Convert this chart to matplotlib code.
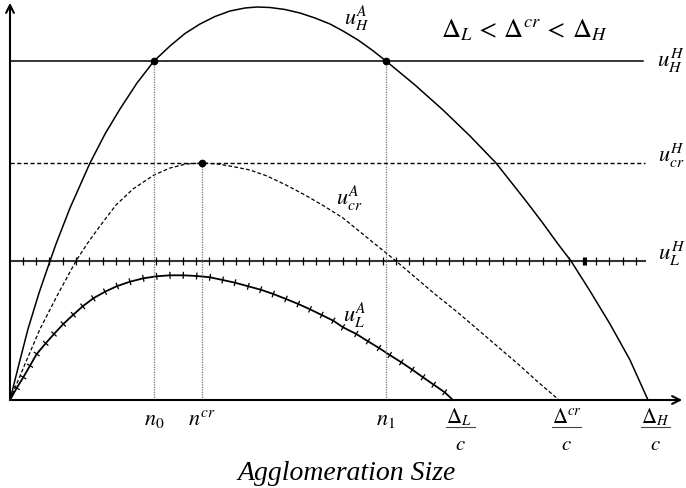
"""Schematic: agglomeration utility curves u^A against the flat u^H levels."""

import matplotlib

matplotlib.use("Agg")
import matplotlib.pyplot as plt
import numpy as np
from matplotlib.collections import LineCollection

plt.rcParams["mathtext.fontset"] = "stix"
plt.rcParams["font.family"] = ["Liberation Serif", "DejaVu Serif"]

# flat utility levels (u^H)
U_H_H = 339
U_CR_H = 237
U_L_H = 139

# special agglomeration sizes
N_0 = 144
N_CR = 192
N_1 = 376
D_L_C = 443
D_CR_C = 549
D_H_C = 638

# u_H^A curve
UHA_N = [0, 9, 18, 29, 40, 46, 60, 80, 95, 110, 127, 144, 160, 175, 190, 205,
         220, 235, 247, 260, 275, 290, 305, 320, 333, 348, 362, 376, 405, 433,
         460, 486, 501, 516, 532, 548, 561, 580, 600, 620, 638]
UHA_U = [0, 36, 71, 107, 139, 156, 192, 237, 266, 291, 317, 339, 354, 366.5, 376,
         383.5, 389, 392, 393, 392.5, 390.5, 387, 382, 376, 369, 360, 350, 339, 315,
         290, 264, 237, 218, 199, 178, 156, 139, 109, 76, 40, 0]

# u_cr^A curve
UCRA_N = [0, 15, 30, 48, 66, 77, 90, 106, 123, 144, 160, 176, 192, 208, 225, 240,
          257, 276, 295, 314, 333, 349, 365, 386, 406, 426, 446, 466, 487, 508,
          528, 549]
UCRA_U = [0, 36, 71, 106, 139, 156, 174, 195, 211, 225, 232, 236, 237, 236, 233,
          230, 224, 215, 205, 194, 182, 169, 156, 139, 122, 105, 89, 72, 54, 36,
          18, 0]

# u_L^A curve (points at its tick marks)
ULA_N = [0, 6.7, 13.3, 20, 26.7, 35.7, 44, 53.3, 63.3, 72.7, 83.3, 95, 107.3, 120,
         133.3, 146.7, 160, 173.3, 186.7, 200, 212.7, 225, 238.3, 250.7, 263.3,
         276, 288.3, 300, 311.7, 323.3, 333, 346.3, 358, 369, 379.7, 391.3,
         402.3, 413, 423.7, 434.7, 443]
ULA_U = [0, 12, 22.7, 34.3, 46, 56.7, 66, 76, 85.3, 93.7, 101.7, 108.3, 114,
         118.3, 121.7, 123.7, 124.7, 124.7, 124, 122.7, 120, 117.3, 113.7, 110.3,
         106, 101, 96, 90.7, 85, 79.3, 72.7, 66, 58.7, 52, 45, 37.7, 30.3, 22.7,
         15.3, 7.7, 0]

FRACTION_NUMERATORS = [r"$\Delta_L$", r"$\Delta^{cr}$", r"$\Delta_H$"]


def main() -> None:
    fig = plt.figure(figsize=(6.86, 4.89), dpi=100)
    ax = fig.add_axes([0, 0, 1, 1])
    # one data unit = one pixel
    ax.set_xlim(-10, 676)
    ax.set_ylim(-88, 401)
    ax.axis("off")

    arrow = dict(arrowstyle="->", lw=1.5, color="black", mutation_scale=14)
    ax.annotate("", xy=(0, 400), xytext=(0, -1), arrowprops=arrow)
    ax.annotate("", xy=(675, 0), xytext=(-1, 0), arrowprops=arrow)

    # flat levels
    ax.plot([0, 633], [U_H_H, U_H_H], color="black", lw=1.1)
    ax.plot([0, 635], [U_CR_H, U_CR_H], color="black", lw=1.0,
            linestyle=(0, (3, 1.8)))
    ax.plot([0, 635], [U_L_H, U_L_H], color="#333333", lw=1.5)
    tick_x = np.arange(12.7, 632, 13.33)
    ax.plot(tick_x, np.full_like(tick_x, U_L_H), linestyle="none", marker="|",
            ms=5.5, mew=0.9, color="black")
    ax.plot([575], [U_L_H], linestyle="none", marker="|", ms=5.5, mew=2.2,
            color="black")

    # curves
    ax.plot(UHA_N, UHA_U, color="black", lw=1.1)
    ax.plot(UCRA_N, UCRA_U, color="black", lw=0.9, linestyle=(0, (3, 1.8)))
    ax.plot(ULA_N, ULA_U, color="black", lw=1.3)
    pts = np.column_stack([ULA_N, ULA_U])
    d = np.gradient(pts, axis=0)
    d /= np.hypot(d[:, 0], d[:, 1])[:, None]
    perp = np.column_stack([-d[:, 1], d[:, 0]]) * 3.5
    segs = np.stack([pts - perp, pts + perp], axis=1)[1:-1]
    ax.add_collection(LineCollection(segs, colors="black", linewidths=0.9))

    # guides
    dotted = dict(color="#777777", lw=0.9, linestyle=(0, (1, 1)))
    ax.plot([N_0, N_0], [0, U_H_H], **dotted)
    ax.plot([N_1, N_1], [0, U_H_H], **dotted)
    ax.plot([N_CR, N_CR], [0, U_CR_H], **dotted)
    ax.plot([N_0, N_1, N_CR], [U_H_H, U_H_H, U_CR_H], linestyle="none",
            marker="o", ms=4.5, color="black")

    # curve labels
    ax.text(334, 376, r"$u_H^A$", fontsize=16, ha="left", va="baseline")
    ax.text(326, 196, r"$u_{cr}^A$", fontsize=16, ha="left", va="baseline")
    ax.text(333, 79, r"$u_L^A$", fontsize=16, ha="left", va="baseline")
    ax.text(647, 334, r"$u_H^H$", fontsize=16.5, ha="left", va="baseline")
    ax.text(648, 239, r"$u_{cr}^H$", fontsize=16, ha="left", va="baseline")
    ax.text(648, 141, r"$u_L^H$", fontsize=16.5, ha="left", va="baseline")
    ax.text(431, 364, r"$\Delta_L\,<\,\Delta^{cr}\,<\,\Delta_H$", fontsize=19,
            ha="left", va="baseline")

    # x-axis labels
    for x, lab in [(N_0, r"$n_0$"), (N_CR, r"$n^{cr}$"), (N_1, r"$n_1$")]:
        ax.text(x, -24, lab, fontsize=16, ha="center", va="baseline")
    for x, num in zip([D_L_C, D_CR_C, D_H_C], FRACTION_NUMERATORS):
        left, right = x - 7, x + 22
        ax.text(left, -22, num, fontsize=15, ha="left", va="baseline")
        ax.plot([left, right], [-27, -27], color="#444444", lw=0.8)
        ax.text((left + right) / 2, -49, r"$c$", fontsize=15, ha="center",
                va="baseline")
    ax.text(337, -73, "Agglomeration Size", fontsize=20, style="italic",
            ha="center", va="center")

    fig.savefig("out.png", dpi=100)


if __name__ == "__main__":
    main()
